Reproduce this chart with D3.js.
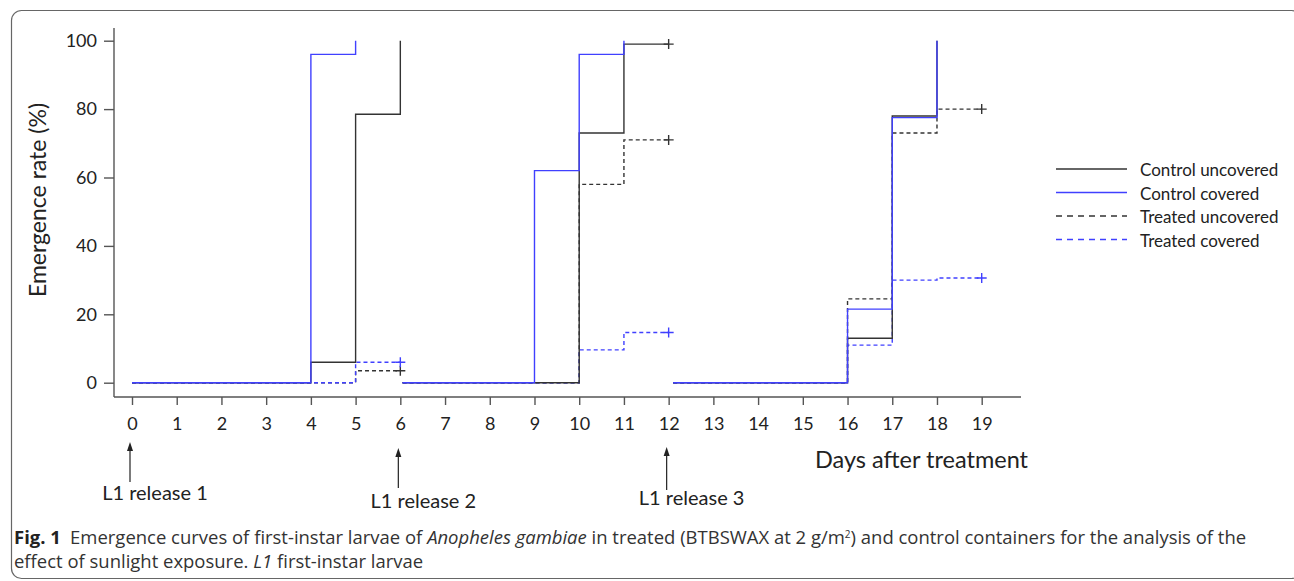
<!DOCTYPE html>
<html>
<head>
<meta charset="utf-8">
<script src="https://cdn.jsdelivr.net/npm/d3@7"></script>
<style>
  html, body { margin: 0; padding: 0; background: #fff; }
  svg { display: block; }
</style>
</head>
<body>
<svg id="chart" width="1294" height="581"></svg>
<script>
// tick values / labels
var dayTicks = [0,1,2,3,4,5,6,7,8,9,10,11,12,13,14,15,16,17,18,19];
var dayLabels = ["0","1","2","3","4","5","6","7","8","9","10","11","12","13","14","15","16","17","18","19"];
var rateTicks = [0,20,40,60,80,100];

// emergence curves, one array of [day, rate] per release period (step after)
var controlUncovered = [
  [[0,0],[4,6],[5,78.5],[6,100]],
  [[6.05,0],[10,73],[11,99],[12,99]],
  [[12.1,0],[16,13],[17,78],[18,100]]
];
var controlCovered = [
  [[0,0],[4,96],[5,100]],
  [[6.05,0],[9,62],[10,96],[11,100]],
  [[12.1,0],[16,21.5],[17,77.5],[18,100]]
];
var treatedUncovered = [
  [[0,0],[5,3.5],[6,3.5]],
  [[6.05,0],[10,58],[11,71],[12,71]],
  [[12.1,0],[16,24.5],[17,73],[18,80],[19,80]]
];
var treatedCovered = [
  [[0,0],[5,6],[6,6]],
  [[6.05,0],[10,9.6],[11,14.7],[12,14.7]],
  [[12.1,0],[16,11],[17,30],[18,30.6],[19,30.6]]
];

// censored ends (+ marks)
var censorControlUncovered = [[12,99]];
var censorTreatedUncovered = [[6,3.5],[12,71],[19,80]];
var censorTreatedCovered = [[6,6],[12,14.7],[19,30.6]];

var legendNames = ["Control uncovered","Control covered","Treated uncovered","Treated covered"];
var releaseDays = [0,6,12];
var releaseLabels = ["L1 release 1","L1 release 2","L1 release 3"];

var BLUE = "#4040ff";
var DARK = "#333";
var AXIS = "#555";
var FONT = "Lato, 'Open Sans', sans-serif";

var svg = d3.select("#chart");

// frame
svg.append("rect")
  .attr("x",11.5).attr("y",10.5)
  .attr("width",1290).attr("height",568)
  .attr("rx",10).attr("ry",10)
  .attr("fill","none").attr("stroke","#666").attr("stroke-width",1.2);

var x = d3.scaleLinear().domain([0,19]).range([132,981.7]);
var y = d3.scaleLinear().domain([0,100]).range([382.7,40.7]);

// axes lines
svg.append("line").attr("x1",114).attr("x2",114).attr("y1",28).attr("y2",397)
  .attr("stroke",AXIS).attr("stroke-width",1.4);
svg.append("line").attr("x1",114).attr("x2",1021).attr("y1",397).attr("y2",397)
  .attr("stroke",AXIS).attr("stroke-width",1.4);

var yAxis = svg.append("g").attr("transform","translate(114,0)")
  .call(d3.axisLeft(y).tickValues(rateTicks).tickSize(10).tickPadding(7));
yAxis.select(".domain").remove();
yAxis.selectAll("line").attr("stroke",AXIS).attr("stroke-width",1.4);
yAxis.selectAll("text").attr("font-family",FONT).attr("font-size",18).attr("fill","#222");

var xAxis = svg.append("g").attr("transform","translate(0,397)")
  .call(d3.axisBottom(x).tickValues(dayTicks).tickFormat(function(d,i){ return dayLabels[i]; })
    .tickSize(8).tickPadding(12));
xAxis.select(".domain").remove();
xAxis.selectAll("line").attr("stroke",AXIS).attr("stroke-width",1.4);
xAxis.selectAll("text").attr("font-family",FONT).attr("font-size",18).attr("fill","#222");

// axis titles
svg.append("text")
  .attr("transform","translate(46,200) rotate(-90)")
  .attr("text-anchor","middle")
  .attr("font-family",FONT).attr("font-size",23).attr("fill","#222")
  .text("Emergence rate (%)");

svg.append("text")
  .attr("x",815).attr("y",468)
  .attr("font-family",FONT).attr("font-size",23.5).attr("fill","#222")
  .text("Days after treatment");

// curves
var line = d3.line().x(function(d){return x(d[0]);}).y(function(d){return y(d[1]);}).curve(d3.curveStepAfter);

function drawSeries(data, color, dash) {
  svg.append("g").selectAll("path").data(data).enter().append("path")
    .attr("d",line)
    .attr("fill","none")
    .attr("stroke",color)
    .attr("stroke-width",1.4)
    .attr("stroke-dasharray",dash);
}
function drawCensor(data, color) {
  var g = svg.append("g");
  g.selectAll("path").data(data).enter().append("path")
    .attr("d",function(d){
      var cx = x(d[0]), cy = y(d[1]);
      return "M"+(cx-5)+","+cy+"H"+(cx+5)+"M"+cx+","+(cy-5)+"V"+(cy+5);
    })
    .attr("stroke",color).attr("stroke-width",1.4).attr("fill","none");
}

drawSeries(treatedUncovered, DARK, "4,3");
drawSeries(treatedCovered, BLUE, "4,3");
drawSeries(controlUncovered, DARK, null);
drawSeries(controlCovered, BLUE, null);
drawCensor(censorTreatedUncovered, DARK);
drawCensor(censorTreatedCovered, BLUE);
drawCensor(censorControlUncovered, DARK);

// legend
var legendColors = [DARK, BLUE, DARK, BLUE];
var legendDash = [null, null, "6,5", "6,5"];
var lg = svg.append("g").selectAll("g").data(legendNames).enter().append("g")
  .attr("transform",function(d,i){ return "translate(1056,"+(171+i*23.5)+")"; });
lg.append("line").attr("x1",0).attr("x2",71).attr("y1",-2).attr("y2",-2)
  .attr("stroke",function(d,i){return legendColors[i];})
  .attr("stroke-width",1.6)
  .attr("stroke-dasharray",function(d,i){return legendDash[i];});
lg.append("text").attr("x",84).attr("y",5)
  .attr("font-family",FONT).attr("font-size",17).attr("fill","#222")
  .text(function(d){return d;});

// release arrows
var arrowTop = [442, 448, 447];
var arrowBottom = [482, 488, 490];
var rel = svg.append("g").selectAll("g").data(releaseDays).enter().append("g");
rel.append("line")
  .attr("x1",function(d){return x(d)-2;}).attr("x2",function(d){return x(d)-2;})
  .attr("y1",function(d,i){return arrowBottom[i];}).attr("y2",function(d,i){return arrowTop[i]+4;})
  .attr("stroke","#222").attr("stroke-width",1.2);
rel.append("path")
  .attr("d",function(d,i){ var cx = x(d)-2, t = arrowTop[i];
    return "M"+(cx-3)+","+(t+9)+"L"+cx+","+t+"L"+(cx+3)+","+(t+9)+"Z"; })
  .attr("fill","#222");
rel.append("text")
  .attr("x",function(d){return x(d)+23;})
  .attr("y",function(d,i){return [500,508,505][i];})
  .attr("text-anchor","middle")
  .attr("font-family",FONT).attr("font-size",20).attr("fill","#222")
  .text(function(d,i){return releaseLabels[i];});

// caption
var CAPFONT = "'Open Sans', 'Noto Sans', sans-serif";
var cap1 = svg.append("text").attr("x",14).attr("y",544)
  .attr("font-family",CAPFONT).attr("font-size",16).attr("fill","#333");
cap1.append("tspan").attr("font-weight","bold").attr("fill","#222").text("Fig. 1");
cap1.append("tspan").text("\u2002Emergence curves of first-instar larvae of ");
cap1.append("tspan").attr("font-style","italic").text("Anopheles gambiae");
cap1.append("tspan").text(" in treated (BTBSWAX at 2 g/m");
cap1.append("tspan").attr("font-size",10).attr("dy",-6).text("2");
cap1.append("tspan").attr("dy",6).text(") and control containers for the analysis of the");

var cap2 = svg.append("text").attr("x",14).attr("y",568)
  .attr("font-family",CAPFONT).attr("font-size",16).attr("fill","#333");
cap2.append("tspan").text("effect of sunlight exposure. ");
cap2.append("tspan").attr("font-style","italic").text("L1");
cap2.append("tspan").text(" first-instar larvae");

// fit caption width to the reference line length
var w1 = cap1.node().getComputedTextLength();
var fs = 16 * (1234 / w1);
cap1.attr("font-size",fs);
cap2.attr("font-size",fs);
</script>
</body>
</html>
